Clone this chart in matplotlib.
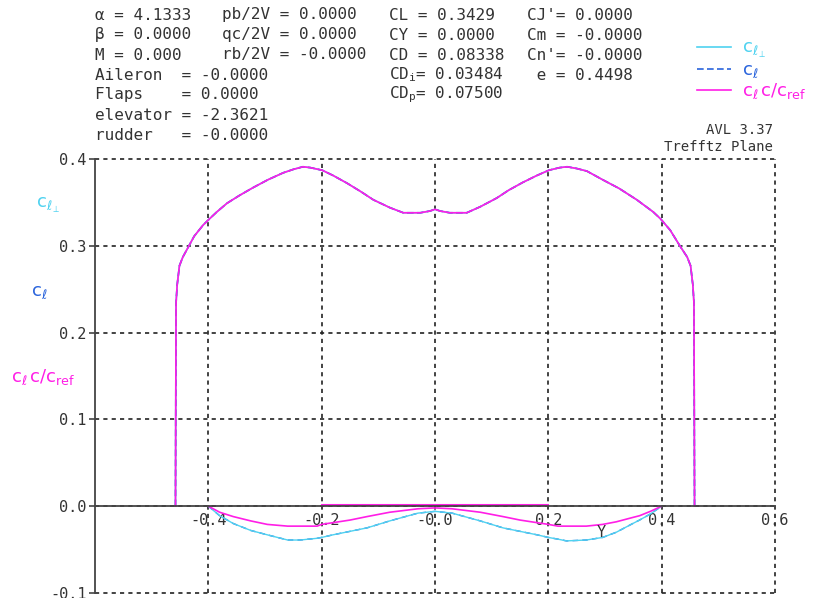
import numpy as np
import matplotlib.pyplot as plt

# trefftz plane data
wing_y = [-0.458, -0.457, -0.455, -0.451, -0.445, -0.435, -0.425, -0.409, -0.398,
          -0.385, -0.367, -0.345, -0.321, -0.295, -0.268, -0.25, -0.233, -0.22,
          -0.199, -0.18, -0.155, -0.13, -0.109, -0.08, -0.056, -0.026, -0.009, 0.0,
          0.009, 0.026, 0.056, 0.08, 0.109, 0.13, 0.155, 0.18, 0.201, 0.22, 0.233,
          0.25, 0.268, 0.296, 0.325, 0.356, 0.385, 0.398, 0.415, 0.432, 0.445,
          0.451, 0.455, 0.457, 0.458]
wing_cl = [0.0, 0.234, 0.255, 0.277, 0.287, 0.299, 0.311, 0.324, 0.331,
           0.339, 0.349, 0.358, 0.367, 0.376, 0.384, 0.388, 0.391, 0.390,
           0.387, 0.381, 0.372, 0.362, 0.353, 0.344, 0.338, 0.338, 0.340, 0.342,
           0.340, 0.338, 0.338, 0.345, 0.355, 0.364, 0.373, 0.381, 0.387, 0.390, 0.391,
           0.389, 0.386, 0.376, 0.366, 0.353, 0.339, 0.331, 0.318, 0.300, 0.287,
           0.277, 0.255, 0.234, 0.0]

tail_y = [-0.4, -0.38, -0.356, -0.325, -0.296, -0.26, -0.238, -0.208, -0.2, -0.18,
          -0.15, -0.12, -0.08, -0.03, 0.0, 0.03, 0.08, 0.12, 0.15, 0.18, 0.2, 0.217,
          0.232, 0.267, 0.296, 0.32, 0.349, 0.361, 0.38, 0.4]
tail_clperp = [0.0, -0.011, -0.020, -0.028, -0.033, -0.039, -0.039, -0.037, -0.036,
               -0.033, -0.029, -0.025, -0.017, -0.008, -0.006, -0.008, -0.017,
               -0.025, -0.029, -0.033, -0.036, -0.038, -0.040, -0.039, -0.036,
               -0.030, -0.020, -0.016, -0.009, 0.0]
tail_clc = [0.0, -0.007, -0.012, -0.017, -0.021, -0.023, -0.023, -0.023, -0.021,
            -0.019, -0.016, -0.012, -0.007, -0.003, -0.002, -0.003, -0.007, -0.012,
            -0.016, -0.019, -0.021, -0.023, -0.023, -0.023, -0.021, -0.018,
            -0.013, -0.011, -0.006, 0.0]

body_y = [-0.2, 0.2]
body_cl = [0.001, 0.001]

xticks = [-0.4, -0.2, 0.0, 0.2, 0.4, 0.6]
xlabels = ['-0.4', '-0.2', '-0.0', '0.2', '0.4', '0.6']
yticks = [-0.1, 0.0, 0.1, 0.2, 0.3, 0.4]
ylabels = ['-0.1', '0.0', '0.1', '0.2', '0.3', '0.4']

cyan = '#4fd2f0'
blue = '#2a64dc'
mag = '#ff1ee6'
txt = '#333333'
mono = 'DejaVu Sans Mono'

plt.rcParams['font.family'] = mono
plt.rcParams['mathtext.fontset'] = 'dejavusans'

fig = plt.figure(figsize=(8.17, 5.98), dpi=100)
ax = fig.add_axes([0.1163, 0.0084, 0.8323, 0.7258])

l1, = ax.plot(wing_y, wing_cl, color=cyan, lw=1.2)
l2, = ax.plot(wing_y, wing_cl, color=blue, lw=1.2, ls=(0, (4, 2)))
l3, = ax.plot(wing_y, wing_cl, color=mag, lw=1.2)
ax.plot(tail_y, tail_clperp, color=blue, lw=1.0, ls=(0, (4, 3)))
ax.plot(tail_y, tail_clperp, color=cyan, lw=1.0)
ax.plot(tail_y, tail_clc, color=mag, lw=1.2)
ax.plot(body_y, body_cl, color=mag, lw=1.5)

ax.set_xlim(-0.6, 0.6)
ax.set_ylim(-0.1, 0.4)
ax.spines['top'].set_visible(False)
ax.spines['right'].set_visible(False)
ax.spines['bottom'].set_position(('data', 0))
ax.spines['bottom'].set_color('#444444')
ax.spines['left'].set_color('#444444')
ax.spines['bottom'].set_linewidth(1.3)
ax.spines['left'].set_linewidth(1.3)

ax.set_xticks(xticks, xlabels)
ax.set_yticks(yticks, ylabels)
ax.tick_params(axis='x', length=0, pad=5, labelsize=11, labelcolor=txt)
ax.tick_params(axis='y', length=4, width=1.2, color='#444444', pad=2,
               labelsize=11, labelcolor=txt)
ax.grid(True, color='#222222', lw=1.2, ls=(0, (2.5, 2.5)), clip_on=False)
ax.set_axisbelow(True)

ax.text(0.294, -0.03, 'Y', color=txt, fontsize=11, ha='center', va='center')

# parameter block at the top
W, H = 817.0, 598.0
def ftext(px, py, s, size=11.5, **kw):
    fig.text(px / W, 1 - py / H, s, color=txt, fontsize=size, va='center', **kw)

col1 = ['α = 4.1333', 'β = 0.0000', 'M = 0.000', 'Aileron  = -0.0000',
        'Flaps    = 0.0000', 'elevator = -2.3621', 'rudder   = -0.0000']
col2 = ['pb/2V = 0.0000', 'qc/2V = 0.0000', 'rb/2V = -0.0000']
col3 = ['CL = 0.3429', 'CY = 0.0000', 'CD = 0.08338',
        r'CD$_\mathregular{i}$= 0.03484', r'CD$_\mathregular{p}$= 0.07500']
col4 = ["CJ'= 0.0000", 'Cm = -0.0000', "Cn'= -0.0000", ' e = 0.4498']
rows = [15, 35, 55, 75, 95, 115, 135]
for s, r in zip(col1, rows):
    ftext(95, r, s)
for s, r in zip(col2, rows):
    ftext(222, r, s)
for s, r in zip(col3, rows):
    ftext(389, r, s)
for s, r in zip(col4, rows):
    ftext(527, r, s)

ftext(773, 130, 'AVL 3.37', size=10, ha='right')
ftext(773, 147, 'Trefftz Plane', size=10, ha='right')

lab_perp = r'$\mathrm{c}_{\ell_\perp}$'
lab_cl = r'$\mathrm{c}_\ell$'
lab_clc = r'$\mathrm{c}_\ell\,\mathrm{c/c_{ref}}$'

fig.legend([l1, l2, l3], [lab_perp, lab_cl, lab_clc],
           loc='upper left', bbox_to_anchor=(688 / W, 1 - 30 / H),
           frameon=False, fontsize=13, handlelength=1.9, handletextpad=0.6,
           labelspacing=0.05, borderpad=0)
leg = fig.legends[0]
for t, c in zip(leg.get_texts(), [cyan, blue, mag]):
    t.set_color(c)

fig.text(36 / W, 1 - 205 / H, lab_perp, color=cyan, fontsize=13, va='center')
fig.text(31 / W, 1 - 292 / H, lab_cl, color=blue, fontsize=13, va='center')
fig.text(11 / W, 1 - 377 / H, lab_clc, color=mag, fontsize=13, va='center')

fig.savefig('out.png', dpi=100)
